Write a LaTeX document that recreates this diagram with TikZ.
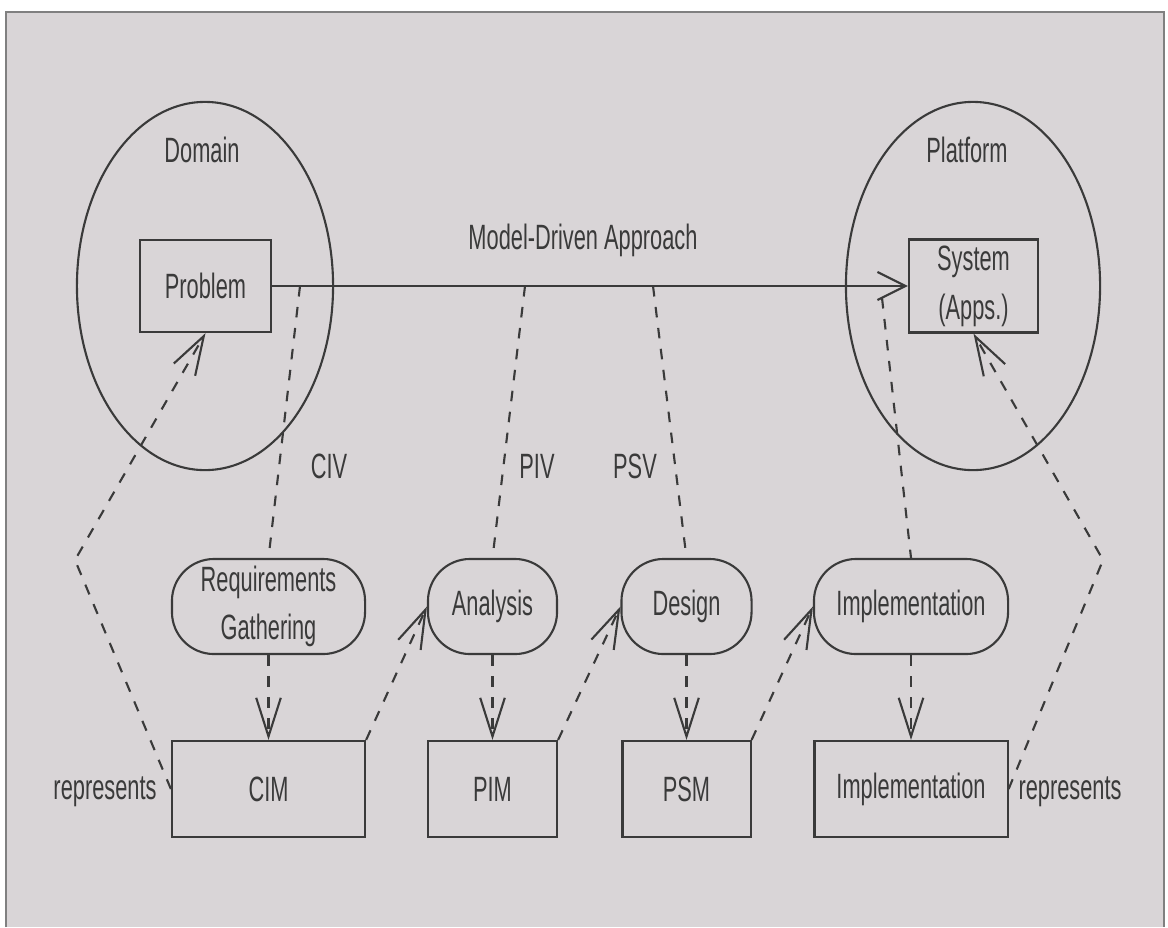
\documentclass[tikz,border=0pt]{standalone}
\usepackage{fontspec}
\setmainfont[FakeStretch=0.62]{Liberation Sans}
\usetikzlibrary{arrows.meta,shapes.geometric}
\definecolor{paper}{HTML}{D9D5D7}
\definecolor{ink}{HTML}{3A3A3A}
\begin{document}
\begin{tikzpicture}[x=0.01cm, y=-0.01cm, line width=0.6pt, draw=ink,
  txt/.style={text=ink, font=\fontsize{10}{13.5}\selectfont, align=center},
  art/.style={draw, txt, inner sep=0pt, minimum height=0.96cm},
  act/.style={draw, txt, inner sep=0pt, rounded corners=0.42cm, minimum height=0.95cm},
  view/.style={dash pattern=on 3pt off 3pt},
  dep/.style={view, -{Straight Barb[length=11pt, width=7pt]}},
  ]
\useasboundingbox (0,0) rectangle (1168,927);
\fill[paper] (6,12) rectangle (1164,927);
\draw[gray, line width=0.8pt] (6,927) -- (6,12) -- (1164,12) -- (1164,927);
\node[ellipse, draw, minimum width=2.56cm, minimum height=3.68cm, inner sep=0pt] (dom) at (205,286){};
\node[ellipse, draw, minimum width=2.54cm, minimum height=3.68cm, inner sep=0pt] (plat) at (973,286){};
\node[txt] (domlbl) at (202,150){Domain};
\node[txt] (platlbl) at (967,150){Platform};
\node[art, minimum width=1.31cm, minimum height=0.92cm] (prob) at (205.5,286){Problem};
\node[art, minimum width=1.29cm, minimum height=0.93cm, font=\fontsize{10}{14}\selectfont] (sys) at (973.5,286){System\\(Apps.)};
\draw[-{Straight Barb[length=8pt, width=8pt]}](prob.east) -- (sys.west);
\node[txt] (mda) at (583,240){Model-Driven Approach};
\coordinate (civ) at (300,286);
\coordinate (piv) at (525,286);
\coordinate (psv) at (653,286);
\coordinate (tipv) at (882,298);
\node[txt] (civlbl) at (329,466){CIV};
\node[txt] (pivlbl) at (537,466){PIV};
\node[txt] (psvlbl) at (635,466){PSV};
\node[act, minimum width=1.93cm] (req) at (268.5,606.5){Requirements\\Gathering};
\node[act, minimum width=1.29cm] (ana) at (492.5,606.5){Analysis};
\node[act, minimum width=1.30cm] (des) at (686.5,606.5){Design};
\node[act, minimum width=1.94cm] (impa) at (911,606.5){Implementation};
\node[art, minimum width=1.93cm] (cim) at (268.5,789){CIM};
\node[art, minimum width=1.29cm] (pim) at (492.5,789){PIM};
\node[art, minimum width=1.28cm] (psm) at (686.5,789){PSM};
\node[art, minimum width=1.93cm] (impm) at (911,789){Implementation};
\node[txt] (replft) at (105,792){represents};
\node[txt] (reprgt) at (1070,792){represents};
\coordinate (lbend) at (75,560);
\coordinate (rbend) at (1103,560);
\draw[view](civ) -- (req.north);
\draw[view](piv) -- (ana.north);
\draw[view](psv) -- (des.north);
\draw[view](tipv) -- (impa.north);
\draw[dep](req.south) -- (cim.north);
\draw[dep](ana.south) -- (pim.north);
\draw[dep](des.south) -- (psm.north);
\draw[dep](impa.south) -- (impm.north);
\draw[dep](cim.north east) -- (ana.west);
\draw[dep](pim.north east) -- (des.west);
\draw[dep](psm.north east) -- (impa.west);
\draw[dep](cim.west) -- (lbend) -- (prob.south);
\draw[dep](impm.east) -- (rbend) -- (sys.south);
\end{tikzpicture}
\end{document}
